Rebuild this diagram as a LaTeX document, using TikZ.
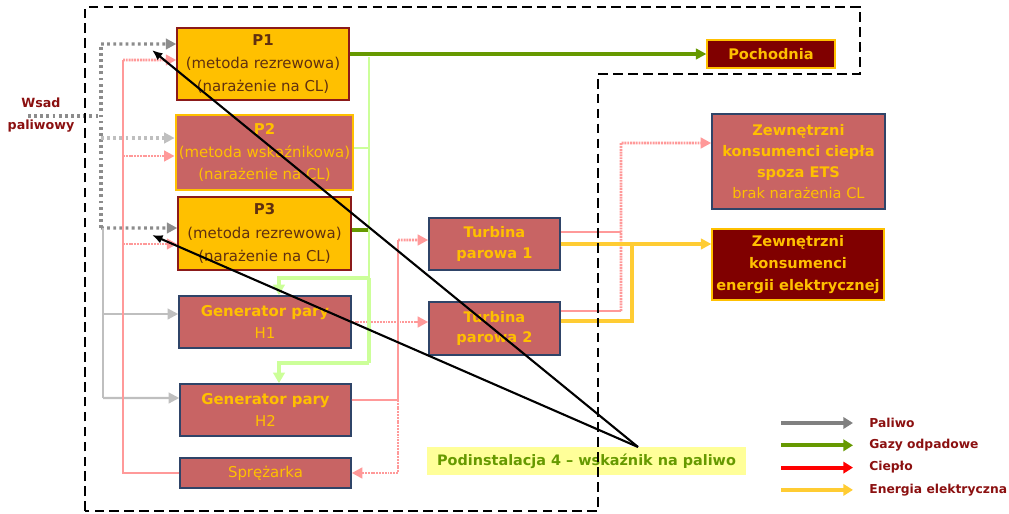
\documentclass[tikz,border=0pt]{standalone}
\usepackage{fontspec}
\setmainfont{DejaVu Sans}
\usetikzlibrary{arrows.meta, positioning}
\definecolor{boxOrange}{HTML}{FFC000}
\definecolor{boxRed}{HTML}{C86464}
\definecolor{boxBlue}{HTML}{2F4468}
\definecolor{pBorder}{HTML}{8B1A1A}
\definecolor{pText}{HTML}{603010}
\definecolor{darkRed}{HTML}{800000}
\definecolor{labelRed}{HTML}{8B1010}
\definecolor{fuelGray}{HTML}{8C8C8C}
\definecolor{fuelLight}{HTML}{BFBFBF}
\definecolor{legGray}{HTML}{808080}
\definecolor{heatPink}{HTML}{FF9999}
\definecolor{heatRed}{HTML}{FF0000}
\definecolor{flueGreen}{HTML}{669900}
\definecolor{flueLight}{HTML}{CCFF99}
\definecolor{elecYellow}{HTML}{FFCC33}
\definecolor{noteYellow}{HTML}{FFFF99}

\begin{document}
\begin{tikzpicture}[x=0.02cm, y=-0.02cm,
    txt/.style={font=\fontsize{8.5}{13}\selectfont, align=center, inner sep=1pt},
    pbox/.style={txt, rectangle, fill=boxOrange, draw=pBorder, line width=0.8pt, text=pText,
                 font=\fontsize{8.5}{13.3}\selectfont},
    ibox/.style={txt, rectangle, fill=boxRed, draw=boxOrange, line width=1.6pt, text=boxOrange},
    hbox/.style={txt, rectangle, fill=boxRed, draw=boxBlue, line width=0.9pt, text=boxOrange},
    obox/.style={txt, rectangle, fill=darkRed, draw=boxOrange, line width=0.7pt, text=boxOrange,
                 font=\fontsize{8.3}{12.5}\selectfont\bfseries},
    legtxt/.style={font=\fontsize{7}{9}\selectfont\bfseries, text=labelRed, inner sep=0pt},
    tip/.style={-{Triangle[length=6pt, width=6pt]}},
    fuel/.style={draw=fuelGray, line width=1.8pt, dash pattern=on 1.6pt off 1.9pt},
    fuelsolid/.style={draw=fuelLight, line width=1.3pt},
    heat/.style={draw=heatPink, line width=1pt},
    heatdot/.style={draw=heatPink, line width=1.5pt, dash pattern=on 1.1pt off 0.5pt},
    flue/.style={draw=flueGreen, line width=2.3pt},
    fluethin/.style={draw=flueLight, line width=0.8pt},
    fluethick/.style={draw=flueLight, line width=1.9pt},
    elec/.style={draw=elecYellow, line width=2.4pt},
    pointer/.style={draw=black, line width=1.2pt, -{Latex[length=6pt, width=5pt]}},
  ]
    \useasboundingbox (0,0) rectangle (1009,514);

    % ─── Process boxes ───
    \node[pbox, minimum width=3.44cm, minimum height=1.44cm] (P1) at (263,64)
      {\textbf{P1}\\(metoda rezrewowa)\\(narażenie na CL)};
    \node[ibox, minimum width=3.54cm, minimum height=1.5cm] (P2) at (264.5,152.5)
      {\textbf{P2}\\(metoda wskaźnikowa)\\(narażenie na CL)};
    \node[pbox, minimum width=3.46cm, minimum height=1.46cm] (P3) at (264.5,233.5)
      {\textbf{P3}\\(metoda rezrewowa)\\(narażenie na CL)};
    \node[hbox, minimum width=3.44cm, minimum height=1.04cm] (H1) at (265,322)
      {\textbf{Generator pary}\\H1};
    \node[hbox, minimum width=3.42cm, minimum height=1.04cm] (H2) at (265.5,410)
      {\textbf{Generator pary}\\H2};
    \node[hbox, minimum width=3.42cm, minimum height=0.6cm] (spr) at (265.5,473) {Sprężarka};
    \node[hbox, minimum width=2.62cm, minimum height=1.04cm, font=\fontsize{8.3}{11.5}\selectfont\bfseries]
      (T1) at (494.5,244) {Turbina\\parowa 1};
    \node[hbox, minimum width=2.62cm, minimum height=1.06cm, font=\fontsize{8.3}{11.5}\selectfont\bfseries]
      (T2) at (494.5,328.5) {Turbina\\parowa 2};

    % ─── Outputs ───
    \node[obox, minimum width=2.56cm, minimum height=0.56cm] (poch) at (771,54) {Pochodnia};
    \node[hbox, minimum width=3.46cm, minimum height=1.9cm, font=\fontsize{8.3}{12}\selectfont]
      (ets) at (798.5,161.5)
      {\textbf{Zewnętrzni}\\\textbf{konsumenci ciepła}\\\textbf{spoza ETS}\\brak narażenia CL};
    \node[obox, minimum width=3.44cm, minimum height=1.42cm] (elec) at (798,264.5)
      {Zewnętrzni\\konsumenci\\energii elektrycznej};

    % ─── Labels ───
    \node[font=\fontsize{7.2}{12.5}\selectfont\bfseries, text=labelRed, align=center, inner sep=0pt]
      (wsad) at (41,115) {Wsad\\paliwowy};
    \node[rectangle, fill=noteYellow, text=flueGreen, inner sep=1pt,
          font=\fontsize{8.2}{10}\selectfont\bfseries, minimum width=6.38cm, minimum height=0.56cm]
      (pod) at (586.5,461) {Podinstalacja 4 – wskaźnik na paliwo};

    % ─── Fuel ───
    \coordinate (fin) at (28,116);
    \coordinate (ftop) at (101,44);
    \coordinate (fbot) at (101,228);
    \coordinate (fsol) at (103,398);
    \draw[fuel] (fin) -- (fin -| ftop);
    \draw[fuel] (fbot) -- (ftop);
    \draw[fuel, tip] (ftop) -- ([yshift=0.4cm]P1.west);
    \draw[fuel, draw=fuelLight, tip] ([yshift=0.29cm]P2.west -| ftop) -- ([yshift=0.29cm]P2.west);
    \draw[fuel, tip] (fbot) -- ([yshift=0.11cm]P3.west);
    \draw[fuelsolid] (fbot -| fsol) -- (fsol);
    \draw[fuelsolid, tip] ([yshift=0.16cm]H1.west -| fsol) -- ([yshift=0.16cm]H1.west);
    \draw[fuelsolid, tip] (fsol) -- ([yshift=0.24cm]H2.west);

    % ─── Heat ───
    \coordinate (hl) at (123,60);
    \coordinate (hm) at (398,240);
    \coordinate (hmb) at (398,400);
    \coordinate (hr) at (621,143);
    \draw[heat] (spr.west) -| (hl);
    \draw[heatdot, tip] (hl) -- ([yshift=0.08cm]P1.west);
    \draw[heatdot, tip] ([yshift=-0.07cm]P2.west -| hl) -- ([yshift=-0.07cm]P2.west);
    \draw[heatdot, tip] ([yshift=-0.21cm]P3.west -| hl) -- ([yshift=-0.21cm]P3.west);
    \draw[heatdot, tip] (H1.east) -- (H1.east -| T2.west);
    \draw[heat] ([yshift=0.2cm]H2.east) -- (hmb) -- (hm);
    \draw[heatdot, tip] (hm) -- ([yshift=0.08cm]T1.west);
    \draw[heatdot, tip] (hmb) |- (spr.east);
    \draw[heat] ([yshift=0.24cm]T1.east) -- ([yshift=0.24cm]T1.east -| hr);
    \draw[heat] ([yshift=0.35cm]T2.east) -- ([yshift=0.35cm]T2.east -| hr);
    \draw[heatdot, tip] ([yshift=0.35cm]T2.east -| hr) -- (hr) -- ([yshift=0.37cm]ets.west);

    % ─── Flue gas ───
    \coordinate (gtop) at (369,57);
    \coordinate (g1) at (369,278);
    \coordinate (g2) at (369,363);
    \draw[flue, tip] (P1.east |- poch.west) -- (poch.west);
    \draw[flue] ([yshift=0.07cm]P3.east) -- ([yshift=0.07cm]P3.east -| gtop);
    \draw[fluethin] ([yshift=0.09cm]P2.east) -- ([yshift=0.09cm]P2.east -| gtop);
    \draw[fluethin] (gtop) -- (g1);
    \draw[fluethick] (g1) -- (g2);
    \draw[fluethick, -{Triangle[length=6pt, width=6.5pt]}] (g1) -| ([xshift=0.28cm]H1.north);
    \draw[fluethick, -{Triangle[length=6pt, width=6.5pt]}] (g2) -| ([xshift=0.27cm]H2.north);

    % ─── Electricity ───
    \coordinate (ebus) at (632,243);
    \draw[elec, tip] (T1.east) -- (T1.east -| elec.west);
    \draw[elec] ([yshift=0.15cm]T2.east) -| (ebus);

    % ─── Boundary ───
    \draw[black, line width=1.7pt, dash pattern=on 5.5pt off 3pt]
      (85,511) -- (85,7) -- (860,7) -- (860,74) -- (598,74) -- (598,511) -- cycle;

    % ─── Pointers ───
    \coordinate (ptr) at (638,447);
    \coordinate (ptr1) at (152,50);
    \coordinate (ptr3) at (152,235);
    \draw[pointer] (ptr) -- (ptr1);
    \draw[pointer] (ptr) -- (ptr3);

    % ─── Legend ───
    \foreach \col/\lab [count=\i from 0] in
      {legGray/Paliwo, flueGreen/Gazy odpadowe, heatRed/Ciepło, elecYellow/Energia elektryczna}{
      \coordinate (leg\i a) at (781, 423+22.3*\i);
      \coordinate (leg\i b) at (853, 423+22.3*\i);
      \draw[\col, line width=2.3pt, -{Triangle[length=5.5pt, width=6.5pt]}] (leg\i a) -- (leg\i b);
      \node[legtxt, anchor=west] (leg\i) at (869, 423+22.3*\i) {\lab};
    }
\end{tikzpicture}
\end{document}
